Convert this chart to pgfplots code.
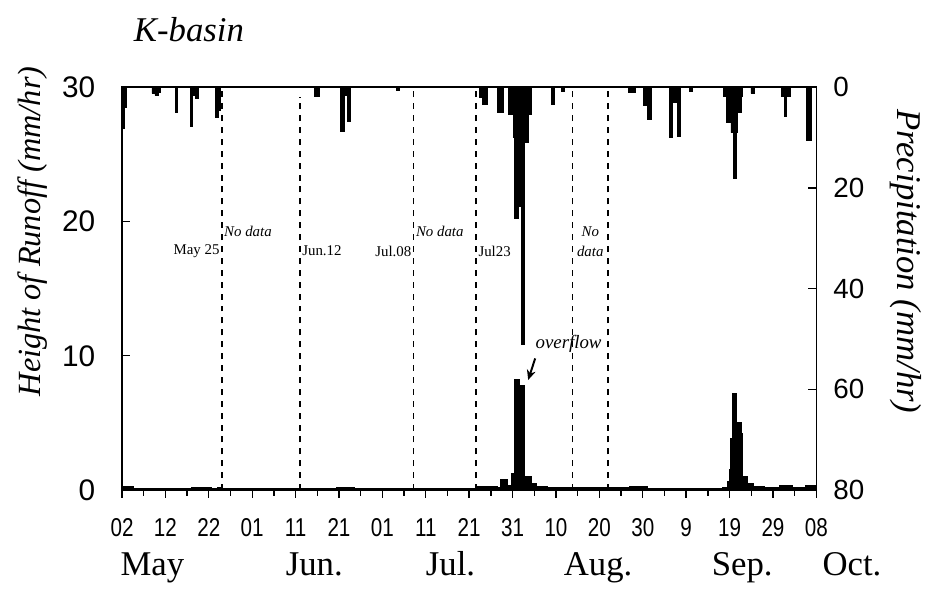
\documentclass[border=0pt]{standalone}
\usepackage{fontspec}
\setmainfont{Liberation Serif}
\setsansfont{Liberation Sans}
\newfontfamily\narrowsans[FakeStretch=0.8]{Liberation Sans}
\usepackage{pgfplots}
\pgfplotsset{compat=1.18}
\usetikzlibrary{arrows.meta}

% runoff (mm/hr), day 0 = May 02, step values
\pgfplotstableread{
day val
0 0.25
2.5 0.12
16 0.2
20.5 0.12
22 0.15
23 0.1
49.5 0.18
53.5 0.1
81.6 0.22
86.5 0.2
87.2 0.8
88.8 0.3
89.8 1.2
90.4 8.2
91.6 5.8
91.9 7.8
92.8 1.0
94.3 0.5
95.5 0.25
98 0.15
117 0.22
121 0.12
138.5 0.2
139.5 0.6
140.0 1.5
140.3 3.8
140.8 7.2
141.5 4.0
141.9 5.0
142.6 4.2
142.9 1.0
144 0.5
145.5 0.25
148 0.15
151.5 0.3
154.5 0.2
157.5 0.3
160 0.3
}\runoff

% precipitation (mm/hr)
\pgfplotstableread{
day val
0 8.1
0.5 4
1.0 0
6.9 1.2
7.6 1.6
8.3 1.0
8.9 0
12.3 5
12.8 0
15.8 7.7
16.3 1.6
17.0 2.2
17.6 0
21.5 5.9
22.2 4.5
22.7 0
44.3 1.7
45.4 0
50.3 8.7
51.2 1.5
51.9 6.7
52.6 0
63.3 0.5
64.0 0
82.3 2.0
83.0 3.3
84.2 0
86.5 4.9
87.8 0
89.1 5.3
90.1 10
90.5 26
91.2 5.3
91.4 23.6
92.1 51
92.8 11
93.7 5.3
94.2 0
99.0 3.3
99.5 0
101.3 0.7
101.8 0
116.6 1
118.2 0
120.2 3.5
121.1 6.3
122.0 0
126.2 10
126.9 3
128.0 9.8
128.7 0
130.7 0.8
131.4 0
138.5 1.7
139.3 7
140.3 9
140.8 18
141.5 9
141.7 5
142.6 1.7
142.9 0
144.9 1.2
145.6 0
152.0 1.7
152.7 5.7
153.1 1.7
154.0 0
157.7 10.6
158.9 0
160 0
}\precip

\pgfplotsset{
  base/.style={
    width=350pt, height=203pt, scale only axis,
    xmin=0, xmax=160, clip=false,
    axis line style={line width=0.8pt},
    major tick length=4pt, minor tick length=3pt,
    tick style={line width=0.7pt, black},
    /pgf/number format/assume math mode=true,
  },
}

\begin{document}
\begin{tikzpicture}
% runoff, left axis
\begin{axis}[base,
  ymin=0, ymax=30, ytick={0,10,20,30}, ytick pos=left, tick align=inside,
  xtick=\empty,
  yticklabel style={font=\fontsize{15}{15}\sffamily, xshift=-10pt},
]
\coordinate (O) at (rel axis cs:0,0);
\addplot[const plot, fill=black, draw=black, line width=0.7pt] table[x=day,y=val] {\runoff} \closedcycle;
\addplot[dashed, line width=0.8pt] coordinates {(23,0) (23,30)};
\addplot[dashed, line width=0.8pt] coordinates {(41,0) (41,29.3)};
\addplot[dashed, line width=0.8pt] coordinates {(67.2,0) (67.2,30)};
\addplot[dashed, line width=0.8pt] coordinates {(81.6,0) (81.6,30)};
\addplot[dashed, line width=0.8pt] coordinates {(103.8,0) (103.8,30)};
\addplot[dashed, line width=0.8pt] coordinates {(112,0) (112,30)};
\begin{scope}[every node/.style={font=\fontsize{7.5}{10}\selectfont, inner sep=1pt}]
\node[anchor=east] at (axis cs:23,17.8) {May 25};
\node[anchor=west, font=\fontsize{7.5}{10}\selectfont\itshape] at (axis cs:23,19.3) {No data};
\node[anchor=west] at (axis cs:41,17.8) {Jun.12};
\node[anchor=east] at (axis cs:67.2,17.8) {Jul.08};
\node[anchor=west, font=\fontsize{7.5}{10}\selectfont\itshape] at (axis cs:67.2,19.3) {No data};
\node[anchor=west] at (axis cs:81.6,17.8) {Jul23};
\node[align=center, font=\fontsize{7.5}{10}\selectfont\itshape] at (axis cs:107.9,18.5) {No\\data};
\end{scope}
\node[font=\fontsize{9.5}{10}\selectfont\itshape] at (axis cs:102.9,10.9) {overflow};
\draw[-{Stealth[length=5pt,width=4.5pt]}, line width=1pt] (axis cs:95.2,9.8) -- (axis cs:93.6,8.2);
\node[rotate=90, font=\fontsize{16.3}{18}\selectfont\itshape] at ([xshift=-45pt]rel axis cs:0,0.642) {Height of Runoff (mm/hr)};
\node[anchor=base west, font=\fontsize{17.5}{20}\selectfont\itshape] at ([xshift=2.5pt,yshift=23pt]rel axis cs:0,1) {K-basin};
\end{axis}
% precipitation, right axis (reversed)
\begin{axis}[base,
  ymin=0, ymax=80, y dir=reverse, ytick={0,20,40,60,80},
  axis y line*=right, hide x axis, tick align=inside,
  yticklabel style={font=\fontsize{14}{14}\sffamily, xshift=5pt},
]
\addplot[const plot, fill=black, draw=black, line width=0.3pt] table[x=day,y=val] {\precip} \closedcycle;
\node[rotate=-90, font=\fontsize{17.5}{20}\selectfont\itshape] at ([xshift=45pt]rel axis cs:1,0.568) {Precipitation (mm/hr)};
\end{axis}
% date axis
\begin{axis}[base,
  ymin=0, ymax=1, hide y axis, axis x line*=bottom, tick align=outside,
  xtick={0,10,...,160}, minor x tick num=1,
  xticklabels={02,12,22,01,11,21,01,11,21,31,10,20,30,9,19,29,08},
  xticklabel style={font=\fontsize{13}{13}\narrowsans, yshift=-7pt},
]
\begin{scope}[every node/.style={anchor=base, font=\fontsize{17.5}{20}\selectfont}]
\node at ([yshift=-43pt]axis cs:7,0) {May};
\node at ([yshift=-43pt]axis cs:44.3,0) {Jun.};
\node at ([yshift=-43pt]axis cs:75.7,0) {Jul.};
\node at ([yshift=-43pt]axis cs:109.7,0) {Aug.};
\node at ([yshift=-43pt]axis cs:142.9,0) {Sep.};
\node at ([yshift=-43pt]axis cs:168.2,0) {Oct.};
\end{scope}
\end{axis}
\path (O) ++(-61.5pt,-50pt) rectangle ++(464pt,297pt);
\end{tikzpicture}
\end{document}
